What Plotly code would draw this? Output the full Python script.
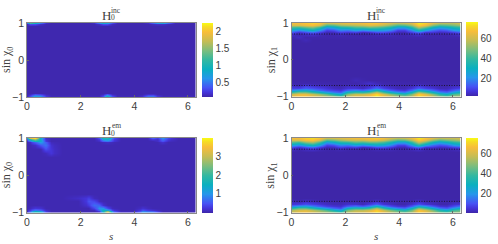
import plotly.graph_objects as go

W, H = 498, 244
PARULA = [[0.0, "#3e26a8"], [0.06, "#4433d8"], [0.125, "#4752f4"], [0.25, "#2796eb"], [0.375, "#0ab0c0"],
          [0.5, "#33b8a1"], [0.625, "#7bbd7e"], [0.75, "#c4bd55"], [0.875, "#f8bd3a"], [0.95, "#f6dc25"], [1.0, "#f9fb15"]]

S_RIGHT = [0, .26, .52, .79, 1.05, 1.31, 1.57, 1.83, 2.09, 2.36, 2.62, 2.88, 3.14, 3.40, 3.67, 3.93, 4.19, 4.45,
           4.71, 4.97, 5.24, 5.50, 5.76, 6.02, 6.28]
Y_RIGHT = [-1, -.94, -.88, -.82, -.76, -.70, -.62, -.55, -.45, 0, .45, .55, .62, .70, .76, .82, .88, .94, 1]

H1_INC = [
 [64,70,70,66,63,60,56,48,62,66,66,70,76,70,64,58,54,60,74,70,62,54,50,56,58],
 [58,64,64,58,52,44,34,26,50,58,58,62,72,60,50,42,36,48,70,62,50,36,30,42,46],
 [38,46,46,38,30,22,16,12,32,38,36,42,56,40,28,20,16,30,52,42,30,18,14,24,32],
 [18,24,26,20,14,10,8,6,14,18,14,20,32,20,12,8,6,14,28,22,14,8,6,12,18],
 [8,8,12,10,8,6,4,3,6,6,4,8,14,8,5,3,3,6,12,8,6,3,3,6,8],
 [4,2,6,4,3,3,2,2,3,3,2,3,6,3,2,2,2,2,5,3,2,2,2,3,3],
 [2,2,2,2,2,2,2,2,2,2,3,5,3,2,2,2,2,2,2,2,2,2,2,2,2],
 [1.5,1.5,1.5,1.5,1.5,1.5,1.5,1.5,1.5,3,2,1.5,1.5,1.5,1.5,1.5,1.5,1.5,1.5,1.5,1.5,1.5,1.5,1.5,1.5],
 [1.5]*25,
 [1.5]*25,
 [1.5]*25,
 [1.5,1.5,3,1.5,1.5,1.5,1.5,1.5,1.5,1.5,1.5,1.5,1.5,1.5,1.5,1.5,1.5,1.5,1.5,1.5,1.5,1.5,1.5,1.5,1.5],
 [2,4,2,2,2,2,2,2,2,2,2,2,2,2,2,2,2,2,2,2,2,2,2,2,2],
 [5,2,4,5,3,2,2,3,2,2,1.5,2,3,3,3,2,2,3,5,2,2,2,2,3,5],
 [12,6,10,14,8,3,4,8,6,8,4,6,10,10,7,3,3,8,14,6,6,4,5,8,12],
 [24,18,24,30,20,8,10,18,16,22,18,22,24,22,18,8,8,18,34,22,14,10,12,20,24],
 [42,40,46,50,40,22,26,34,36,42,42,46,44,40,34,24,24,36,56,46,32,24,28,34,38],
 [60,60,64,66,60,42,44,52,54,56,58,62,60,56,50,42,44,52,70,64,50,42,44,48,52],
 [66,66,68,70,68,58,60,62,64,64,66,68,68,64,60,56,58,62,74,70,62,56,56,56,60],
]

H1_EM = [
 [60,66,68,64,60,58,54,46,60,64,64,68,74,68,62,56,52,58,72,68,60,52,48,54,56],
 [54,60,62,56,50,42,32,24,48,56,56,60,70,58,48,40,34,46,68,60,48,34,28,40,44],
 [36,44,44,36,28,20,14,10,30,36,34,40,54,38,26,18,14,28,50,40,28,16,12,22,30],
 [16,22,24,18,12,8,6,5,12,16,12,18,30,18,10,6,5,12,26,20,12,6,5,10,16],
 [6,7,10,8,6,4,3,3,5,5,3,7,12,6,4,2,2,5,10,6,4,2,2,5,6],
 [3,2,4,3,2,2,2,2,2,2,2,2,4,2,2,2,2,2,4,2,2,2,2,2,2],
 [1.5]*25,
 [1.5]*25,
 [1.5]*25,
 [1.5]*25,
 [1.5]*25,
 [1.5]*25,
 [1.5]*25,
 [4,2,4,5,3,2,2,3,2,2,1.5,2,3,3,3,2,2,3,5,2,2,2,2,3,4],
 [10,6,10,14,8,3,4,8,6,8,4,6,10,10,7,3,3,8,14,6,6,4,5,8,10],
 [24,18,26,32,22,8,10,18,16,22,18,22,26,24,18,8,8,20,36,22,14,10,12,20,24],
 [44,40,50,54,42,22,28,36,38,44,42,46,46,42,34,24,24,38,58,46,32,24,30,36,40],
 [60,60,66,68,60,42,46,52,56,58,58,62,62,58,50,42,44,54,70,62,50,42,46,50,54],
 [66,66,70,72,68,58,60,62,64,66,66,68,70,66,60,56,58,64,74,68,62,56,58,58,60],
]

S_LEFT = [0, .1, .3, .5, .7, .9, 1.1, 2.1, 2.3, 2.5, 2.7, 2.85, 3.0, 3.15, 3.35, 4.1, 4.3, 4.5, 4.7, 4.85, 5.05, 5.25, 5.5, 6.28]
Y_LEFT = [-1, -.97, -.93, -.88, -.8, -.7, -.6, -.5, 0, .5, .6, .7, .8, .88, .93, .97, 1]

H0_INC = [
 [.1,.5,1.0,.9,.3,.1,.1,.1,.1,.1,.1,.4,1.3,.5,.1,.1,.3,.8,.8,.4,.1,.1,.1,.1],
 [.1,.3,.7,.6,.2,.1,.1,.1,.1,.1,.1,.3,.9,.3,.1,.1,.15,.45,.45,.2,.1,.1,.1,.1],
 [.08,.12,.3,.25,.1,.08,.08,.08,.08,.08,.08,.12,.35,.12,.08,.08,.08,.15,.15,.08,.08,.08,.08,.08],
] + [[.08]*24 for _ in range(12)] + [
 [.1,.3,.3,.15,.08,.08,.08,.08,.08,.08,.15,.3,.3,.12,.08,.08,.08,.08,.12,.15,.15,.1,.08,.08],
 [.4,1.2,.9,.5,.15,.08,.08,.08,.08,.15,.5,.8,.7,.3,.1,.08,.08,.15,.4,.6,.7,.4,.1,.08],
]

H0_EM = [
 [.05,.8,2.0,1.6,.4,.05,.05,.05,.05,.05,.2,1.2,3.95,1.2,.1,.2,1.2,.9,1.0,.5,.05,.05,.05,.05],
 [.05,.6,1.5,1.2,.3,.05,.05,.05,.05,.05,.3,1.6,2.8,.9,.1,.1,.9,.7,.6,.3,.05,.05,.05,.05],
 [.05,.3,.8,.6,.15,.05,.05,.05,.05,.1,.7,1.6,1.3,.4,.05,.05,.5,.3,.2,.1,.05,.05,.05,.05],
 [.05,.1,.25,.2,.05,.05,.05,.05,.05,.4,1.0,1.0,.4,.1,.05,.05,.2,.1,.05,.05,.05,.05,.05,.05],
 [.05,.05,.05,.05,.05,.05,.05,.05,.3,.7,.6,.2,.05,.05,.05,.05,.05,.05,.05,.05,.05,.05,.05,.05],
 [.05]*8 + [.5,.4,.1] + [.05]*13,
 [.05]*7 + [.15,.35,.1] + [.05]*14,
 [.05]*24,
 [.05]*24,
 [.05]*24,
 [.05]*4 + [.1,.25] + [.05]*18,
 [.05]*4 + [.45,.25] + [.05]*18,
 [.05,.05,.15,.5,.75,.2] + [.05]*18,
 [.05,.15,.6,1.1,.6,.1] + [.05]*5 + [.1,.15,.1] + [.05]*6 + [.2,.05,.05,.05,.05],
 [.2,.7,1.6,1.4,.3,.05,.05,.05,.05,.05,.15,.6,.8,.4] + [.05]*5 + [.15,.5,.15,.05,.05],
 [.5,1.9,2.8,1.3,.2,.05,.05,.05,.05,.05,.3,1.2,1.4,.6,.05,.05,.05,.05,.3,.15,.8,.3,.05,.05],
 [1.2,3.2,3.8,1.4,.15,.05,.05,.05,.05,.05,.5,1.7,1.8,.8,.05,.05,.05,.05,.6,.3,1.0,.4,.05,.05],
]

TICKS_S = [0, 2, 4, 6]
TICKS_Y = [-1, 0, 1]
DOTTED = [-0.7, 0.7]

FONT = "Liberation Sans"
SERIF = "Liberation Serif"
INK = "#404040"

panels = [
 dict(s=S_LEFT, y=Y_LEFT, z=H0_INC, zr=(.06, 2.24), cb=[.5, 1, 1.5, 2], cbt=["0.5", "1", "1.5", "2"], box=(27, 195.5, 23, 97), cbx=(202, 213), sub="0", sup="inc", yl="0", dots=False, xl=False),
 dict(s=S_RIGHT, y=Y_RIGHT, z=H1_INC, zr=(1.5, 76), cb=[20, 40, 60], cbt=["20", "40", "60"], box=(291.5, 460.5, 23, 96.5), cbx=(466, 478), sub="1", sup="inc", yl="1", dots=True, xl=False),
 dict(s=S_LEFT, y=Y_LEFT, z=H0_EM, zr=(.0, 4.0), cb=[1, 2, 3], cbt=["1", "2", "3"], box=(27, 195.5, 138, 212.5), cbx=(202, 213), sub="0", sup="em", yl="0", dots=False, xl=True),
 dict(s=S_RIGHT, y=Y_RIGHT, z=H1_EM, zr=(1.5, 76), cb=[20, 40, 60], cbt=["20", "40", "60"], box=(291.5, 460.5, 138, 212.5), cbx=(466, 478), sub="1", sup="em", yl="1", dots=True, xl=True),
]

fig = go.Figure()
anns = []
def note(text, px, py, size, **kw):
    anns.append(dict(text=text, x=px / W, y=1 - py / H, xref="paper", yref="paper", showarrow=False, xanchor="center",
                     yanchor="middle", font=dict(family=SERIF, size=size, color=INK), **kw))

for i, p in enumerate(panels, 1):
    x0, x1, y0, y1 = p["box"]
    xa, ya = f"x{i}", f"y{i}"
    cb0, cb1 = p["cbx"]
    fig.add_trace(go.Heatmap(
        x=p["s"], y=p["y"], z=p["z"], zmin=p["zr"][0], zmax=p["zr"][1], colorscale=PARULA, zsmooth="best",
        xaxis=xa, yaxis=ya, hoverinfo="skip",
        colorbar=dict(x=cb0 / W, xanchor="left", y=1 - y1 / H, yanchor="bottom", len=(y1 - y0) / H, lenmode="fraction",
                      thickness=cb1 - cb0, thicknessmode="pixels", xpad=0, ypad=0, outlinewidth=0,
                      tickvals=p["cb"], ticktext=p["cbt"], ticks="", ticklen=0,
                      tickfont=dict(family=FONT, size=10, color=INK))))
    if p["dots"]:
        for d in DOTTED:
            fig.add_trace(go.Scatter(x=[0, 6.28], y=[d, d], mode="lines", xaxis=xa, yaxis=ya, showlegend=False,
                                     hoverinfo="skip", line=dict(color="#111111", width=0.8, dash="1px 1.5px")))
    axk = dict(showgrid=False, zeroline=False, showline=True, mirror=True, linecolor="#8a8a8a", linewidth=0.6,
               ticks="inside", ticklen=2, tickwidth=0.5, tickcolor="#666666", automargin=False,
               tickfont=dict(family=FONT, size=10.5, color=INK))
    fig.update_layout({
        ("xaxis" if i == 1 else f"xaxis{i}"): dict(axk, domain=[x0 / W, x1 / W], range=[0, 6.28], tickvals=TICKS_S, anchor=ya),
        ("yaxis" if i == 1 else f"yaxis{i}"): dict(axk, domain=[1 - y1 / H, 1 - y0 / H], range=[-1, 1], tickvals=TICKS_Y, anchor=xa),
    })
    cx = (x0 + x1) / 2
    note("H", cx - 5, y0 - 8, 13)
    note(p["sup"], cx + 5, y0 - 12.5, 7.5)
    note(p["sub"], cx + 1.5, y0 - 5, 7.5)
    note(f"sin χ<sub>{p['yl']}</sub>", x0 - 20, (y0 + y1) / 2, 12, textangle=-90)
    if p["xl"]:
        note("<i>s</i>", cx, 236, 11)

fig.update_layout(width=W, height=H, margin=dict(l=0, r=0, t=0, b=0, autoexpand=False), paper_bgcolor="white", plot_bgcolor="white",
                  showlegend=False, annotations=anns)
fig.write_html("out.html", config=dict(displayModeBar=False),
               post_script="document.body.style.margin='0';document.body.style.overflow='hidden';")
